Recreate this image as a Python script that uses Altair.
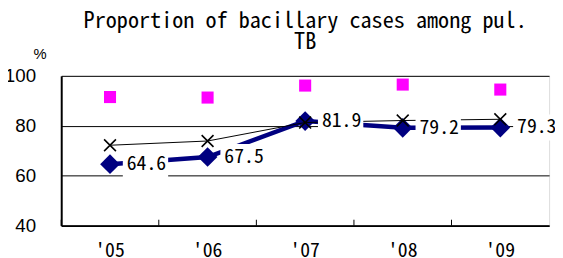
import altair as alt
import pandas as pd

years = ["'05", "'06", "'07", "'08", "'09"]
bacillary = [64.6, 67.5, 81.9, 79.2, 79.3]
cross_series = [72.2, 73.9, 81.3, 82.1, 82.6]
square_series = [91.5, 91.3, 96.1, 96.5, 94.5]
label_text = ["64.6", "67.5", "81.9", "79.2", "79.3"]

df = pd.DataFrame({
    "year": years,
    "bac": bacillary,
    "cross": cross_series,
    "sq": square_series,
    "lab": label_text,
})

MONO = "Noto Sans Mono CJK JP, DejaVu Sans Mono, monospace"
SANS = "Liberation Sans, sans-serif"

xenc = alt.X("year:N", sort=years,
             scale=alt.Scale(type="band", paddingInner=0, paddingOuter=0),
             axis=alt.Axis(title=None, labelAngle=0, ticks=False, domainWidth=2,
                           domainColor="black", labelFont=MONO, labelFontSize=20,
                           labelColor="black", labelPadding=15, labelBaseline="top"))
yscale = alt.Scale(domain=[40, 100], nice=False, zero=False)
yaxis = alt.Axis(values=[40, 60, 80, 100], grid=True, gridColor="black", gridWidth=1,
                 gridOpacity=1, ticks=False, domainWidth=2, domainColor="black",
                 labelFont=SANS, labelFontSize=19, labelColor="black", labelPadding=26,
                 title="%", titleAngle=0, titleX=-22, titleY=-23, titleAlign="center",
                 titleBaseline="middle", titleFont="Liberation Sans", titleFontSize=15,
                 titleFontWeight="normal", titleColor="black")

base = alt.Chart(df)

navy_line = base.mark_line(color="#000080", strokeWidth=4.5).encode(
    x=xenc, y=alt.Y("bac:Q", scale=yscale, axis=yaxis))
navy_pts = base.mark_point(shape="diamond", size=400, filled=True, color="#000080",
                           opacity=1).encode(x=xenc, y=alt.Y("bac:Q", scale=yscale))
blk_line = base.mark_line(color="black", strokeWidth=1).encode(
    x=xenc, y=alt.Y("cross:Q", scale=yscale))
blk_pts = base.mark_point(shape="M-1,-1L1,1M-1,1L1,-1", size=144, filled=False,
                          color="black", strokeWidth=1.6, opacity=1).encode(
    x=xenc, y=alt.Y("cross:Q", scale=yscale))
sq_pts = base.mark_point(shape="square", size=150, filled=True, color="#FF00FF",
                         opacity=1).encode(x=xenc, y=alt.Y("sq:Q", scale=yscale))
boxes = base.mark_point(shape="M-1,-0.57L1,-0.57L1,0.57L-1,0.57Z", size=2116,
                        filled=True, color="white", opacity=1, xOffset=36).encode(
    x=xenc, y=alt.Y("bac:Q", scale=yscale))
labels = base.mark_text(align="left", baseline="middle", dx=17, font=MONO,
                        fontSize=20, color="black").encode(
    x=xenc, y=alt.Y("bac:Q", scale=yscale), text="lab:N")
ticks = base.mark_rule(color="black", strokeWidth=1).encode(
    x=alt.X("year:N", sort=years, bandPosition=0,
            scale=alt.Scale(type="band", paddingInner=0, paddingOuter=0)),
    y=alt.value(146), y2=alt.value(152))

chart = alt.layer(navy_line, navy_pts, blk_line, blk_pts, sq_pts, boxes, labels, ticks).properties(
    width=495, height=152,
    title=alt.TitleParams(["Proportion of bacillary cases among pul.", "TB"],
                          font=MONO, fontSize=22.5, fontWeight="normal", color="black",
                          anchor="middle", lineHeight=21, offset=22, dy=29),
    autosize=alt.AutoSizeParams(type="none"),
    padding={"left": 54, "top": 67, "right": 6, "bottom": 31},
).configure_view(stroke="black", strokeWidth=1).configure(background="white")

chart.save("out.html", embed_options={"renderer": "svg", "actions": False})
